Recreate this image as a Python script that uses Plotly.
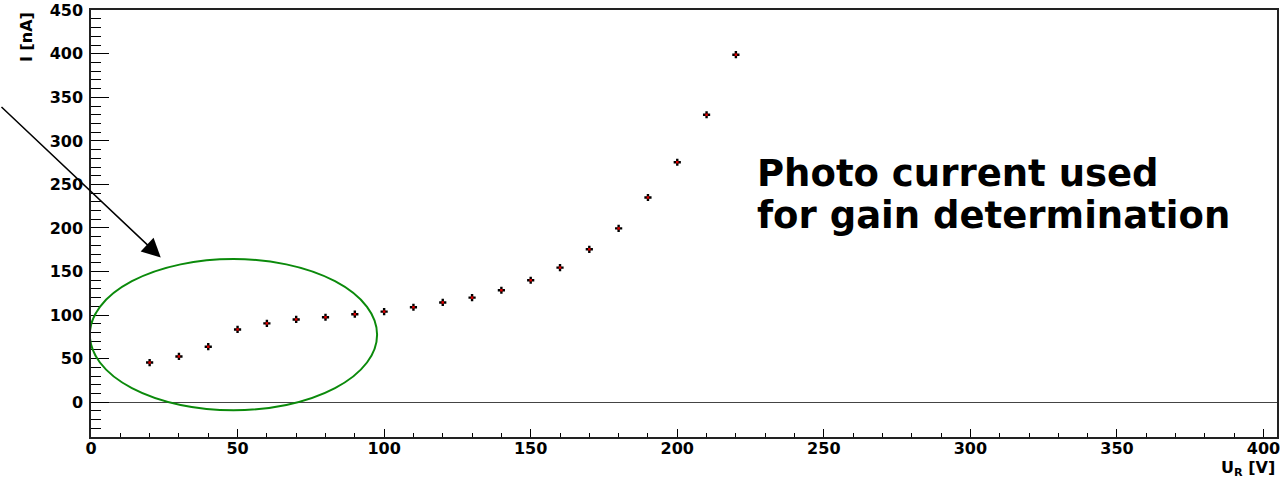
import plotly.graph_objects as go

# Data
voltage_V = [20, 30, 40, 50, 60, 70, 80, 90, 100, 110, 120, 130, 140, 150, 160, 170, 180, 190, 200, 210, 220]
current_nA = [45.5, 52.5, 63.7, 83.5, 90.5, 95, 97.5, 101, 104, 109, 114.5, 120, 128.5, 140, 154.5, 175.5, 199.5, 235, 275.5, 330, 399]

x_ticks = [0, 50, 100, 150, 200, 250, 300, 350, 400]
y_ticks = [0, 50, 100, 150, 200, 250, 300, 350, 400, 450]
note_line1 = "Photo current used"
note_line2 = "for gain determination"

TICK_FONT = dict(family="DejaVu Sans", size=16, color="black", weight="bold")

fig = go.Figure()
fig.add_trace(go.Scatter(
    x=voltage_V, y=current_nA, mode="markers",
    marker=dict(symbol="cross", size=6, color="black", line=dict(width=0)),
    showlegend=False, hoverinfo="skip"))
fig.add_trace(go.Scatter(
    x=voltage_V, y=current_nA, mode="markers",
    marker=dict(symbol="square", size=2.5, color="#e00000", line=dict(width=0)),
    showlegend=False, hoverinfo="skip"))

# green ellipse around the low-voltage region
fig.add_shape(type="circle", xref="x", yref="y", x0=-0.4, x1=97.6, y0=-9.3, y1=164.3,
              line=dict(color="#0b8a0b", width=2))

# arrow
fig.add_annotation(x=23.8, y=166.1, xref="x", yref="y", text="", showarrow=True,
                   ax=-162, ay=-152, axref="pixel", ayref="pixel",
                   arrowhead=2, arrowsize=2.5, arrowwidth=1.5, arrowcolor="black", standoff=0)

# note text
fig.add_annotation(x=(755 - 91) / 1186, y=(437 - 173) / 427, xref="paper", yref="paper",
                   text=note_line1, showarrow=False, xanchor="left", yanchor="middle",
                   font=dict(family="DejaVu Sans", size=37, color="black", weight="bold"))
fig.add_annotation(x=(755 - 91) / 1186, y=(437 - 215) / 427, xref="paper", yref="paper",
                   text=note_line2, showarrow=False, xanchor="left", yanchor="middle",
                   font=dict(family="DejaVu Sans", size=37, color="black", weight="bold"))

# axis titles
fig.add_annotation(x=(26 - 91) / 1186, y=1, xref="paper", yref="paper", text="I [nA]",
                   textangle=-90, showarrow=False, xanchor="center", yanchor="top",
                   font=dict(family="DejaVu Sans", size=16, color="black", weight="bold"))
fig.add_annotation(x=1, y=0, xref="paper", yref="paper", text="U<sub>R</sub> [V]",
                   showarrow=False, xanchor="right", yanchor="top", yshift=-19,
                   font=dict(family="DejaVu Sans", size=16, color="black", weight="bold"))

fig.update_layout(
    width=1282, height=481,
    margin=dict(l=91, r=5, t=10, b=44, autoexpand=False),
    paper_bgcolor="white", plot_bgcolor="white",
    xaxis=dict(range=[0, 404.6], tickvals=x_ticks, ticks="inside", ticklen=8, tickwidth=1,
               tickcolor="black", showgrid=False, zeroline=False, showline=True, automargin=False,
               linecolor="#222", linewidth=1.5, mirror=True, tickfont=TICK_FONT, ticklabelstandoff=-4,
               minor=dict(dtick=10, ticks="inside", ticklen=4, tickcolor="black", tickwidth=1, showgrid=False)),
    yaxis=dict(range=[-40, 450.3], tickvals=y_ticks, ticks="inside", ticklen=18, tickwidth=1,
               tickcolor="black", showgrid=False, zeroline=True, zerolinecolor="#444", automargin=False,
               zerolinewidth=1.2, showline=True, linecolor="#222", linewidth=1.5, mirror=True,
               tickfont=TICK_FONT, ticklabelstandoff=3,
               minor=dict(dtick=10, tick0=0, ticks="inside", ticklen=10, tickcolor="black", tickwidth=1, showgrid=False)),
)

fig.write_html("out.html", config={"displayModeBar": False},
               post_script="document.body.style.margin='0';document.body.style.overflow='hidden';")
